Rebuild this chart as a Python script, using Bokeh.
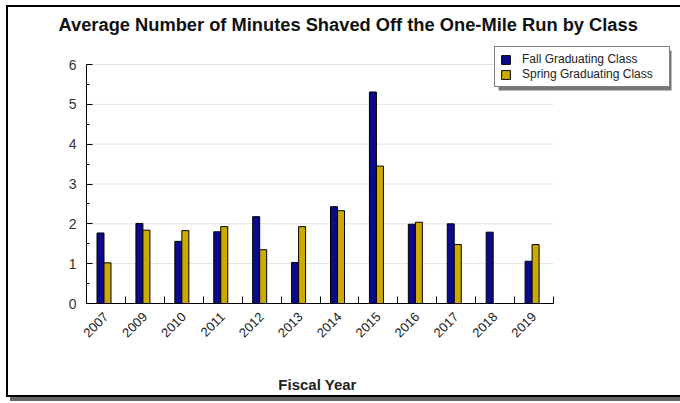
import math
from bokeh.plotting import figure
from bokeh.models import (ColumnDataSource, Range1d, FixedTicker, Legend, LegendItem,
                          Label, BoxAnnotation)
from bokeh.embed import file_html
from bokeh.resources import INLINE

years = ["2007", "2009", "2010", "2011", "2012", "2013", "2014", "2015", "2016", "2017", "2018", "2019"]
fall = [1.77, 2.01, 1.56, 1.80, 2.18, 1.03, 2.43, 5.31, 1.99, 2.00, 1.79, 1.06]
spring = [1.02, 1.84, 1.83, 1.93, 1.35, 1.93, 2.33, 3.45, 2.04, 1.48, float("nan"), 1.48]
y_ticks = [0, 1, 2, 3, 4, 5, 6]
title_text = "Average Number of Minutes Shaved Off the One-Mile Run by Class"
x_title = "Fiscal Year"
series_names = ["Fall Graduating Class", "Spring Graduating Class"]
colors = ["#0a0a8a", "#ccaa00"]

n = len(years)
ymax = y_ticks[-1]
centers = [i + 0.5 for i in range(n)]
src = ColumnDataSource(dict(
    xf=[c - 0.14 for c in centers],
    xs=[c + 0.04 for c in centers],
    fall=fall, spring=spring))
grid_src = ColumnDataSource(dict(y=y_ticks[1:], x0=[0] * (len(y_ticks) - 1),
                                 x1=[n] * (len(y_ticks) - 1)))

FONT = "Liberation Sans"
W, H = 674, 392                  # canvas size (canvas sits at page 8,7)
OX, OY = 78, 296                 # canvas pixel of the data origin (x=0, y=0), from top-left
AW, AH = 467, 239                # pixel size of the data area 0..n, 0..ymax
ux = AW / n
uy = AH / ymax

p = figure(width=W, height=H, output_backend="svg", toolbar_location=None,
           x_range=Range1d(-OX / ux, (W - OX) / ux),
           y_range=Range1d(-(H - OY) / uy, OY / uy),
           min_border=0)
p.styles = {"position": "absolute", "left": "6px", "top": "5px",
            "border-left": "2px solid black", "border-top": "2px solid black",
            "border-bottom": "2px solid black", "box-shadow": "4px 4px 0 #666666"}
p.outline_line_color = None
p.background_fill_color = "white"
p.border_fill_color = "white"
p.xgrid.grid_line_color = None
p.ygrid.grid_line_color = None

p.segment(x0="x0", x1="x1", y0="y", y1="y", source=grid_src, line_color="#e2e2e2", line_width=1)

rf = p.vbar(x="xf", top="fall", width=0.18, source=src, fill_color=colors[0],
            line_color="black", line_width=1)
rs = p.vbar(x="xs", top="spring", width=0.18, source=src, fill_color=colors[1],
            line_color="black", line_width=1)

xa = p.xaxis[0]
xa.fixed_location = 0
xa.bounds = (0, n)
xa.ticker = FixedTicker(ticks=centers, minor_ticks=list(range(n + 1)))
xa.major_label_overrides = {c: y for c, y in zip(centers, years)}
xa.major_tick_line_color = None
xa.minor_tick_in = 7
xa.minor_tick_out = 0
xa.minor_tick_line_color = "black"
xa.axis_line_color = "black"
xa.major_label_orientation = math.pi / 4
xa.major_label_text_font = FONT
xa.major_label_text_font_size = "13px"
xa.major_label_text_color = "#222222"
xa.major_label_standoff = 5

ya = p.yaxis[0]
ya.fixed_location = 0
ya.bounds = (0, ymax)
ya.ticker = FixedTicker(ticks=y_ticks, minor_ticks=[t + 0.5 for t in y_ticks[:-1]])
ya.major_tick_in = 6
ya.major_tick_out = 0
ya.minor_tick_in = 3
ya.minor_tick_out = 0
ya.major_tick_line_color = "black"
ya.minor_tick_line_color = "black"
ya.axis_line_color = "black"
ya.major_label_text_font = FONT
ya.major_label_text_font_size = "14px"
ya.major_label_text_color = "#333333"
ya.major_label_standoff = 10

# titles (frame covers the whole canvas; screen units from bottom-left)
p.add_layout(Label(x=50, y=H - 17, x_units="screen", y_units="screen", text=title_text,
                   text_font=FONT, text_font_style="bold", text_font_size="18.3px",
                   text_align="left", text_baseline="middle", text_color="#111111"))
p.add_layout(Label(x=309, y=H - 377, x_units="screen", y_units="screen", text=x_title,
                   text_font=FONT, text_font_style="bold", text_font_size="15px",
                   text_align="center", text_baseline="middle", text_color="#222222"))

# legend shadow
p.add_layout(BoxAnnotation(left=490, right=663, top=H - 43, bottom=H - 83,
                           left_units="screen", right_units="screen",
                           top_units="screen", bottom_units="screen",
                           fill_color="#777777", fill_alpha=1, line_color=None))

legend = Legend(items=[LegendItem(label=series_names[0], renderers=[rf]),
                       LegendItem(label=series_names[1], renderers=[rs])],
                location=(486, H - 80))
legend.border_line_color = "black"
legend.border_line_width = 1
legend.background_fill_color = "white"
legend.background_fill_alpha = 1
legend.padding = 5
legend.spacing = 1
legend.margin = 0
legend.glyph_height = 11
legend.glyph_width = 11
legend.label_height = 14
legend.label_width = 142
legend.label_standoff = 11
legend.label_text_font = FONT
legend.label_text_font_size = "12px"
legend.label_text_color = "#222222"
p.add_layout(legend, "center")

open("out.html", "w").write(file_html(p, INLINE))
